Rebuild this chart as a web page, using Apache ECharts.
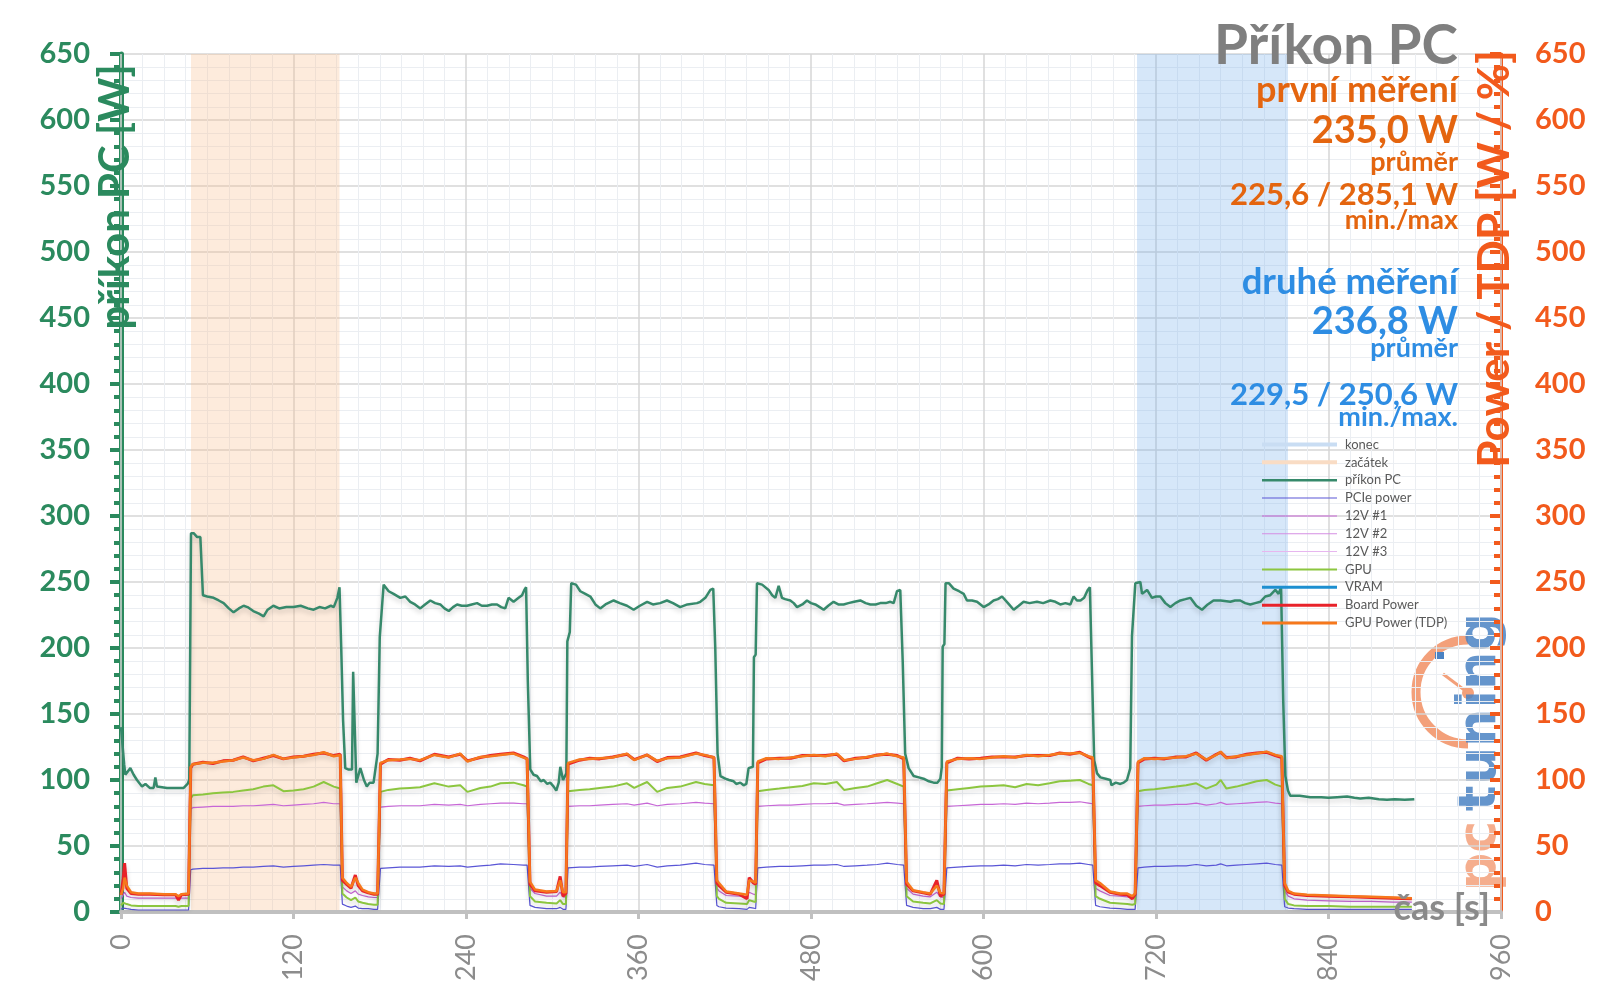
<!DOCTYPE html>
<html><head><meta charset="utf-8">
<script src="https://cdn.jsdelivr.net/npm/echarts@6/dist/echarts.min.js"></script>
<style>html,body{margin:0;padding:0;background:#fff}#c{width:1600px;height:1008px}</style>
</head><body><div id="c"></div>
<script>
// ---------------- DATA ----------------
const seriesNames = ['konec', 'začátek', 'příkon PC', 'PCIe power', '12V #1', '12V #2', '12V #3', 'GPU', 'VRAM', 'Board Power', 'GPU Power (TDP)'];
const xTicks = [0, 120, 240, 360, 480, 600, 720, 840, 960];
const zacatek = [48.7, 152];   // shaded "začátek" window [s]
const konec = [706.8, 811.8];  // shaded "konec" window [s]

// příkon PC [t, W]
const pcPower = [
 [0,140],[1.2,141],[2.2,112],[3,104],[6.5,109],[8.8,104],[11.1,100],[14.6,95],[17,97],[20,94],[22.7,94],[23.9,102],[25,95],[32,94],[38,94],[43.6,94],[46.3,97],[47.5,100],
 [48.7,287],[50.5,287],[53,284],[55.2,284],[57,240],[60,239],[64.4,238],[68,236],[71.4,234],[75,230],[78.3,227],[82,230],[85.3,232],[88,231],[92,228],[96,226],[99.2,224],[102,229],[106,232],[110,230],[115,231],[120,231],[125,232],[130,230],[134,229],[138,231],[142,230],[146,232],[148,231],[150.5,238],[152,246],
 [153.2,200],[154.5,145],[156,109],[158,108],[160.7,108],[161.5,182],[162.5,182],[163.7,98],[166.5,109],[169,100],[171,95],[173,98],[175.7,98],[178.5,120],[180,208],[182.7,248],
 [184,248],[186.2,243],[189.6,241],[194.3,238],[197.8,239],[201.2,235],[204.5,233],[208.2,230],[211.5,233],[215.2,236],[218.5,234],[222.1,233],[225,230],[228,228],[231,231],[233.8,233],[237,232],[240.7,232],[244,233],[247.7,234],[251,232],[254.6,232],[258,233],[261.6,233],[264.5,231],[267.3,230],[269.6,238],[273.1,235],[276.6,238],[279,240],[280.6,244],[281.8,246],
 [283,175],[284.7,108],[287,104],[289.4,103],[292,99],[294,100],[296.5,97],[298.6,98],[301,95],[302.8,92],[304.5,98],[305.6,110],[307.5,100],[309.8,105],[310.5,205],[312.2,212],[313.2,249],
 [316.5,248],[319.5,243],[323,241],[326.5,239],[330,233],[333.4,230],[337,233],[342.7,236],[347,234],[352,232],[356.6,229],[361,232],[366,235],[370,233],[375,234],[379.8,236],[384,234],[389,231],[394,233],[400.7,234],[403,235],[406.5,238],[410,244],[412,245],
 [413.4,200],[415,120],[417,103],[420.4,101],[423,100],[426.2,99],[428,97],[430.8,98],[433.1,96],[435,97],[436.6,109],[439.6,110],[440.3,193],[441.5,195],[442.4,249],
 [446,248],[450.5,244],[453,240],[455.2,238],[457.5,247],[459.8,238],[462,237],[465.6,236],[468,234],[470.3,231],[474,233],[477.2,236],[480,234],[483,233],[486,231],[488.8,229],[492,232],[495.7,235],[499,233],[502.7,233],[506,234],[510,235],[514.3,236],[518,234],[521.3,233],[525,233],[528.2,234],[532,234],[535.2,235],[537.5,234],[539.8,243],[542.1,244],
 [543.8,190],[545.5,120],[547.9,109],[551.4,103],[555,102],[558.3,101],[562,99],[565.3,98],[568,98],[570,101],[571,110],[571.6,201],[572.8,203],[573.6,249],
 [576,249],[579.2,245],[583,243],[586.2,241],[588.5,236],[592,236],[595.5,235],[600.1,231],[603.5,233],[607,236],[610,237],[612.9,239],[617,234],[621,229],[624.5,232],[627.9,235],[632,234],[637.2,235],[641.5,234],[646.5,236],[650,235],[653.4,233],[657,234],[660.4,233],[662.7,239],[665,236],[667.5,236],[670,238],[672.5,244],[674,246],
 [675.5,180],[677,115],[679,105],[681.3,102],[685,101],[688.2,100],[689,96],[692,98],[695.2,97],[697.5,98],[699.8,100],[702.1,109],[703.3,209],[704.5,210],[705.6,249],
 [709.1,250],[710.3,241],[713.8,244],[717.2,238],[720,239],[723,239],[726.5,234],[730,231],[733.5,234],[737,236],[740.5,237],[743.9,238],[748,232],[752,229],[756,233],[760,236],[765,236],[771.7,235],[775,236],[778.6,236],[782,234],[785.6,233],[789,234],[792.6,235],[796,239],[799.5,240],[803,244],[805.3,241],[807,246],
 [808.5,160],[810,103],[811.8,92],[813.4,88],[820,88],[827.3,87],[835,87],[840,86.5],[846,87],[852.9,87.5],[858,86.5],[862.1,86],[868,86.5],[875,85.5],[880.7,85],[886,85.5],[893,85],[899.7,85.5]
];

// shared time base for the GPU-side measurements [s]
const tGpu = [
 0,1.5,2.5,4,7,12,20,30,38,40,42,47,
 48.5,50,57,64,71,78,85,92,99,106,113,120,127,134,141,148,152.5,
 154,157,160,163,165,168,172,176,178.5,
 180.5,186,194,201,208,218,228,236,241,250,257,264,273,280,282.5,
 284.5,288,296,303,305.5,307.5,309.5,
 311,319,326,333,342,352,357,366,373,380,389,400,406,412.5,
 414.5,416,421,430,435.5,437,440,441.5,
 443,449,458,466,474,482,490,498,503,511,519,526,533,540,544.5,
 546.5,551,558,563,567.5,570,572.5,
 574.5,582,590,598,606,614,622,630,638,646,653,660,667,673,676,
 678,681,688,695,700,703.5,705.5,
 707.5,712,719,726,734,741,748,755,762,765,769,776,783,790,797,803,807.5,
 809.5,812,816,825,840,855,870,885,898
];
const tdpPower = [
 13,18,26,20,15,14,14,13.5,13.5,12,13.5,14,
 110,112,113,113,114,115,117,115,116,119,116,117,118,119,121,118,119,
 26,22,19,26,22,17,15,14,14,
 113,115,115.5,116,115,119,117,120,114,117.5,118,119,120,117,116,
 23,17,15.5,16,24,15,15,
 113,115.5,116,116.5,117,120,115,119,114.5,116.5,117,120,119,117,
 24,22,15.5,14,13,24,23,22,
 114,116.5,116,117,118,119,118,120,115,116,117.5,118.5,120,118,117,
 23,16.5,15,14,20,14.5,14,
 114,116,116.5,116,117,118,117,119,118,119,120,120,120.5,118,117,
 24,22,15.5,14,14,12,14,
 114,116.5,116,116.5,117,118,120,115.5,119,121.5,116.5,118,119,120,121.5,119,118,
 22,16,14,13,12.5,12,11.5,11,10.5
];
const boardPower = [
 13,25,37,18,14,13.5,13.5,13,13,9,13,13.5,
 109,112,113.5,112.5,114.5,115,117.5,114.5,116.5,118.5,116,117.5,118,119.5,120.5,118.5,119.5,
 24,21,18,28,20,16,14.5,13.5,13.5,
 112,115.5,115,116.5,114.5,119.5,117.5,119.5,114.5,117,118.5,119.5,120.5,117.5,116,
 21,16,15,15.5,27,12,14,
 112,115,116.5,116,117.5,119.5,115.5,119,114,117,117.5,120.5,118.5,117,
 22,20,15,13.5,10,26,22,21,
 113,116,116.5,116.5,118.5,118.5,118.5,119.5,114.5,116.5,117,119,119.5,118.5,116,
 21,16,14.5,13.5,24,12,13.5,
 113,116.5,116,116.5,117.5,117.5,117.5,118.5,118.5,118.5,120.5,119.5,121,117.5,116,
 22,20,15,13.5,13,10,13.5,
 113,116,116.5,116,117.5,117.5,120.5,115,119.5,121,117,117.5,119.5,120.5,121,118.5,117,
 20,15,13.5,12.5,12,11.5,11,10.5,10
];
const gpuCore = [
 5,7,8,6,5,4.5,4.5,4.5,4.5,4,4.5,4.5,
 86,88.5,89,90,90.5,91,92,93,95,96,91.5,92,93,95,98.5,95,93.5,
 14,11,9,11,8,7,6,5.5,5.5,
 91,92.5,93.5,94,94.5,97.5,95,96,91,94,95,97.5,98,96,95,
 12,8,7,6.5,9,6,6,
 91.5,92.5,93,94,95,97.5,94,98.5,91,94,95,98.5,97,96,
 12,10,7,6.5,6,9,8,7.5,
 91.5,92.5,93.5,94.5,95.5,97.5,97,98.5,92.5,94,95,97.5,100,97,95,
 12,8,7,6.5,9,6.5,6,
 92,93,94,95,95.5,96,94.5,97,96,97.5,99,99.5,100,97,96,
 12,10,7,6.5,6,5.5,6,
 91.5,92.5,93,94,95,96,97.5,93.5,96.5,100,93.5,95,97,99,100,96.5,95,
 10,6,5,4.5,4.5,4,4,4,4
];
const v12_1 = [
 10,13,15,12,11,10.5,10.5,10.5,10.5,10,10.5,10.5,
 78,79,79.5,80,80,80,80.5,80.5,81,81.5,80.5,81,81.5,82,83,82,82,
 19,16,14,16,13.5,12.5,11.5,11,11,
 79.5,80,80.5,80.5,80.5,81.5,81,81.5,80.5,81.5,82,82.5,82.5,82,82,
 18,14,12,12,15,11.5,11.5,
 80,80.5,80.5,81,81.5,82,81,82.5,80.5,81.5,82,83,82.5,82,
 18,16,12.5,12,11.5,15,13.5,13,
 80,80.5,81,81,81.5,82,82,82.5,81,81.5,82,82.5,83,82.5,82,
 18,13.5,12,11.5,15,11.5,11,
 80,80.5,81,81.5,81.5,82,81.5,82.5,82,82.5,83,83,83.5,82.5,82,
 18,16,12.5,12,11.5,10.5,11.5,
 80,80.5,81,81,81.5,81.5,82.5,81,82,83,81.5,82,82.5,83,83.5,82.5,82,
 16,12,10,9,8.5,8,8,7.5,7.5
];
const pcie = [
 2,3,3.5,2.5,2,1.5,1.5,1.5,1.5,1.5,1.5,1.5,
 32,32.5,33,33,33.5,33.5,34,34,34.5,35,34,34.5,35,35.5,36,35.5,35.5,
 6,4.5,3.5,4.5,3,2.5,2.5,2,2,
 33,33.5,34,34,34,35,34.5,35,34,35,35.5,36.5,36,35.5,35.5,
 5,3.5,2.5,2.5,3.5,2,2,
 33.5,34,34,34.5,35,35.5,34.5,36,34,35,35.5,37,36,35.5,
 5,4,3,2.5,2,3.5,3,2.5,
 33.5,34,34.5,34.5,35,35.5,35.5,36,34.5,35,35.5,36,37,36,35.5,
 5,3.5,2.5,2.5,3.5,2,2,
 33.5,34,34.5,35,35,35.5,35,36,35.5,36,36.5,36.5,37,36,35.5,
 5,4,3,2.5,2,2,2,
 33.5,34,34.5,34.5,35,35,36,35,35.5,36.5,35,35.5,36,36.5,37,36,35.5,
 4,3,2.5,2,2,2,2,2,2
];
// barely-visible rails (hidden at the axis line)
const tAux = [0, 898];
const v12_2 = [0.5, 0.5];
const v12_3 = [0.3, 0.3];
const vram = [0.2, 0.2];

const statLines = ['Příkon PC', 'první měření', '235,0 W', 'průměr', '225,6 / 285,1 W', 'min./max',
                   'druhé měření', '236,8 W', 'průměr', '229,5 / 250,6 W', 'min./max.'];
const axisTitles = ['příkon PC [W]', 'Power / TDP [W / %]', 'čas [s]'];

// ---------------- CHART ----------------
const F = 'Lato, "Open Sans", "Noto Sans", sans-serif';
const GREEN = '#2b8a5e', ORANGE = '#f25a1c', TXT_OR = '#e4650f', TXT_BL = '#2e8de3';
const pair = (ts, vs) => ts.map((t, i) => [t, vs[i]]);
const shadow = {shadowColor: 'rgba(0,0,0,0.18)', shadowBlur: 5, shadowOffsetY: 3};

function ln(name, data, color, width, extra) {
  return Object.assign({
    name, type: 'line', data, symbol: 'none', color, showSymbol: false,
    lineStyle: Object.assign({color, width}, extra && extra.shadow ? shadow : {}),
    animation: false, silent: true, z: 3
  }, extra && extra.opt || {});
}

const series = [
  ln(seriesNames[0], [], '#c9ddf3', 3, {opt: {markArea: {silent: true, itemStyle: {color: 'rgba(120,175,235,0.30)'},
      data: [[{xAxis: konec[0]}, {xAxis: konec[1]}]]}, z: 0}}),
  ln(seriesNames[1], [], '#f9dcc4', 3, {opt: {markArea: {silent: true, itemStyle: {color: 'rgba(250,190,140,0.30)'},
      data: [[{xAxis: zacatek[0]}, {xAxis: zacatek[1]}]]}, z: 0}}),
  ln(seriesNames[2], pcPower, '#36896b', 2.5, {shadow: true}),
  ln(seriesNames[3], pair(tGpu, pcie), '#5a56d6', 1.2),
  ln(seriesNames[4], pair(tGpu, v12_1), '#c767d6', 1.2),
  ln(seriesNames[5], pair(tAux, v12_2), '#d58ee3', 1, {opt: {z: 0}}),
  ln(seriesNames[6], pair(tAux, v12_3), '#e7b6ef', 1, {opt: {z: 0}}),
  ln(seriesNames[7], pair(tGpu, gpuCore), '#8cc63f', 2, {shadow: true}),
  ln(seriesNames[8], pair(tAux, vram), '#1d8fd0', 2, {opt: {z: 0}}),
  ln(seriesNames[9], pair(tGpu, boardPower), '#e8222a', 3, {shadow: true}),
  ln(seriesNames[10], pair(tGpu, tdpPower), '#f6781c', 2.5)
];

// legend entries drawn as plain lines of the series' thickness
const legendThick = [4, 4, 2.5, 1, 1, 1, 1, 2, 3, 3, 3];
const legendData = seriesNames.map((n, i) => ({name: n, icon: 'path://M0,0h75v' + legendThick[i] + 'h-75z'}));

const graphics = [];
const statY = [46, 90, 131, 162, 195, 220, 282, 322, 348, 395, 417];
const statSize = [55, 36, 38, 27, 31, 27, 36.5, 38, 27, 31, 27];
const statColor = ['#7f7f7f', TXT_OR, TXT_OR, TXT_OR, TXT_OR, TXT_OR, TXT_BL, TXT_BL, TXT_BL, TXT_BL, TXT_BL];
statLines.forEach((s, i) => graphics.push({
  type: 'text', x: 1458, y: statY[i], z: 10,
  style: {text: s, fill: statColor[i], font: 'bold ' + statSize[i] + 'px ' + F, textAlign: 'right', textVerticalAlign: 'middle',
          shadowColor: 'rgba(0,0,0,0.25)', shadowBlur: 4, shadowOffsetY: 1}
}));
// logo watermark
const LOGO_OR = '#f3a07a', LOGO_BL = '#4a82c3';
graphics.push({type: 'group', z: 2, children: [
  {type: 'arc', shape: {cx: 1468, cy: 692, r: 52, startAngle: Math.PI / 2, endAngle: Math.PI * 1.5, clockwise: true},
   style: {stroke: LOGO_OR, lineWidth: 9, fill: null}},
  {type: 'rect', shape: {x: 1435, y: 652, width: 9, height: 7}, style: {fill: LOGO_BL}},
  {type: 'line', shape: {x1: 1443, y1: 674, x2: 1467, y2: 692}, style: {stroke: LOGO_OR, lineWidth: 3}},
  {type: 'circle', shape: {cx: 1468, cy: 693, r: 6}, style: {fill: LOGO_OR}},
  {type: 'text', x: 1481, y: 712, rotation: Math.PI / 2,
   style: {text: 'tuning', fill: LOGO_BL, font: 'bold 54px "DejaVu Sans"', textAlign: 'center', textVerticalAlign: 'middle', opacity: 0.85}},
  {type: 'text', x: 1481, y: 856, rotation: Math.PI / 2,
   style: {text: 'pc', fill: LOGO_OR, font: 'bold 54px "DejaVu Sans"', textAlign: 'center', textVerticalAlign: 'middle', opacity: 0.85}}
]});
// axis titles
graphics.push({type: 'text', x: 115, y: 197, rotation: Math.PI / 2, z: 20,
  style: {text: axisTitles[0], fill: GREEN, font: 'bold 42px ' + F, textAlign: 'center', textVerticalAlign: 'middle',
          shadowColor: 'rgba(255,255,255,1)', shadowBlur: 8}});
graphics.push({type: 'text', x: 1495, y: 259, rotation: Math.PI / 2, z: 20,
  style: {text: axisTitles[1], fill: ORANGE, font: 'bold 44px ' + F, textAlign: 'center', textVerticalAlign: 'middle',
          shadowColor: 'rgba(255,255,255,1)', shadowBlur: 8}});
graphics.push({type: 'text', x: 1490, y: 908, z: 20,
  style: {text: axisTitles[2], fill: '#8a8a8a', font: 'bold 36px ' + F, textAlign: 'right', textVerticalAlign: 'middle',
          shadowColor: 'rgba(0,0,0,0.2)', shadowBlur: 4}});

const yCommon = {type: 'value', min: 0, max: 650, interval: 50};
const option = {
  animation: false,
  backgroundColor: '#ffffff',
  textStyle: {fontFamily: F},
  grid: {left: 121, right: 99, top: 54, bottom: 96, containLabel: false},
  legend: {
    orient: 'vertical', left: 1262, top: 438, padding: 0, itemWidth: 75, itemHeight: 12, itemGap: 4.85,
    selectedMode: false, data: legendData,
    textStyle: {fontSize: 13, color: '#595959', fontFamily: F, padding: [0, 0, 0, 3]}
  },
  xAxis: {
    type: 'value', min: xTicks[0], max: xTicks[xTicks.length - 1], interval: 120, z: 1,
    axisLine: {onZero: false, lineStyle: {color: '#c0c0c0', width: 4}},
    axisTick: {show: true, length: 7, lineStyle: {color: '#c0c0c0', width: 3}},
    minorTick: {show: false, splitNumber: 8},
    minorSplitLine: {show: true, lineStyle: {color: '#ebeef2', width: 1}},
    splitLine: {show: true, lineStyle: {color: '#d6d6d6', width: 1.5}},
    axisLabel: {rotate: 90, fontSize: 27, color: '#8c8c8c', margin: 22, fontFamily: F}
  },
  yAxis: [
    Object.assign({}, yCommon, {
      position: 'left',
      axisLine: {show: true, lineStyle: {color: GREEN, width: 5}},
      axisTick: {show: true, length: 11, lineStyle: {color: GREEN, width: 4}},
      minorTick: {show: true, splitNumber: 5, length: 7, lineStyle: {color: GREEN, width: 4}},
      axisLabel: {color: GREEN, fontSize: 29, fontWeight: 'bold', margin: 31, fontFamily: F},
      splitLine: {show: true, lineStyle: {color: '#d6d6d6', width: 1.5}},
      minorSplitLine: {show: true, lineStyle: {color: '#ebeef2', width: 1}}
    }),
    Object.assign({}, yCommon, {
      position: 'right',
      axisLine: {show: true, lineStyle: {color: ORANGE, width: 3}},
      axisTick: {show: true, inside: true, length: 11, lineStyle: {color: ORANGE, width: 4}},
      minorTick: {show: true, splitNumber: 5, length: 7, lineStyle: {color: ORANGE, width: 4}},
      axisLabel: {color: ORANGE, fontSize: 29, fontWeight: 'bold', margin: 34, fontFamily: F},
      splitLine: {show: false}
    })
  ],
  graphic: graphics,
  series
};
const chart = echarts.init(document.getElementById('c'), null, {renderer: 'canvas'});
chart.setOption(option);
</script>
</body></html>
